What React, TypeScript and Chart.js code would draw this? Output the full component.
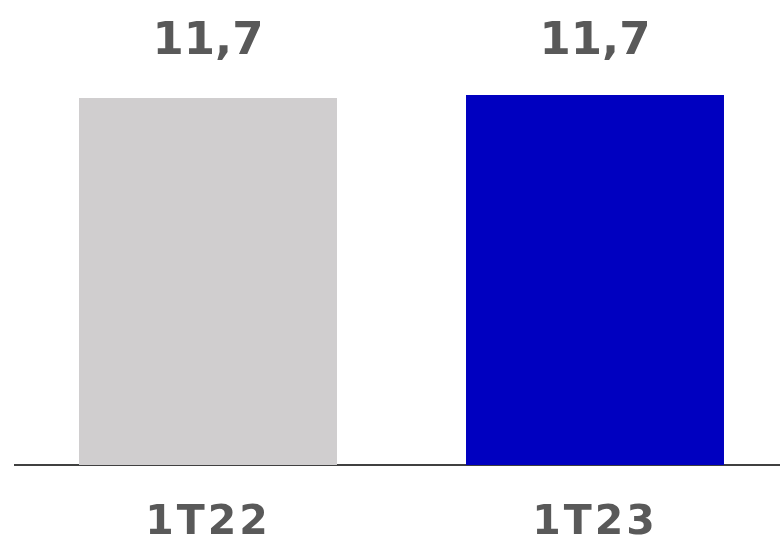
import React, { useEffect, useRef } from "react";
import { Chart, registerables } from "chart.js";

Chart.register(...registerables);

const categories = ["1T22", "1T23"];
const values = [11.65, 11.75];
const valueLabels = ["11,7", "11,7"];
const barColors = ["#D0CECF", "#0000C0"];

const valueLabelPlugin = {
  id: "valueLabels",
  beforeDraw(chart: any) {
    chart.ctx.letterSpacing = "3px";
  },
  afterDatasetsDraw(chart: any) {
    const ctx = chart.ctx;
    const meta = chart.getDatasetMeta(0);
    ctx.save();
    ctx.letterSpacing = "0px";
    ctx.font = "bold 45px 'DejaVu Sans'";
    ctx.fillStyle = "#595959";
    ctx.textAlign = "center";
    ctx.textBaseline = "alphabetic";
    meta.data.forEach((bar: any, i: number) => {
      ctx.fillText(valueLabels[i], bar.x, chart.chartArea.top + 30);
    });
    ctx.restore();
  },
  afterDraw(chart: any) {
    chart.ctx.letterSpacing = "0px";
  },
};

export default function App() {
  const ref = useRef<HTMLCanvasElement | null>(null);
  useEffect(() => {
    if (!ref.current) return;
    const chart = new Chart(ref.current, {
      type: "bar",
      data: {
        labels: categories,
        datasets: [
          {
            data: values,
            backgroundColor: barColors,
            borderWidth: 0,
            categoryPercentage: 0.8,
            barPercentage: 0.8333,
          },
        ],
      },
      options: {
        animation: false,
        responsive: true,
        maintainAspectRatio: false,
        layout: { padding: { left: 14.5, right: 11.5, top: 24, bottom: 2 } },
        plugins: { legend: { display: false }, tooltip: { enabled: false } },
        scales: {
          x: {
            grid: { display: false, drawTicks: false },
            border: { display: true, color: "#404040", width: 2 },
            ticks: {
              color: "#595959",
              padding: 34,
              font: { family: "'DejaVu Sans'", size: 41, weight: "bold" },
            },
            afterFit(scale: any) {
              scale.height = 78;
            },
          },
          y: {
            display: false,
            min: 0,
            max: 14,
          },
        },
      },
      plugins: [valueLabelPlugin],
    });
    return () => chart.destroy();
  }, []);
  return (
    <div style={{ position: "fixed", left: 0, top: 0, width: "780px", height: "545px", overflow: "hidden", background: "#fff" }}>
      <div style={{ position: "relative", width: "800px", height: "545px" }}>
        <canvas ref={ref} />
      </div>
    </div>
  );
}
